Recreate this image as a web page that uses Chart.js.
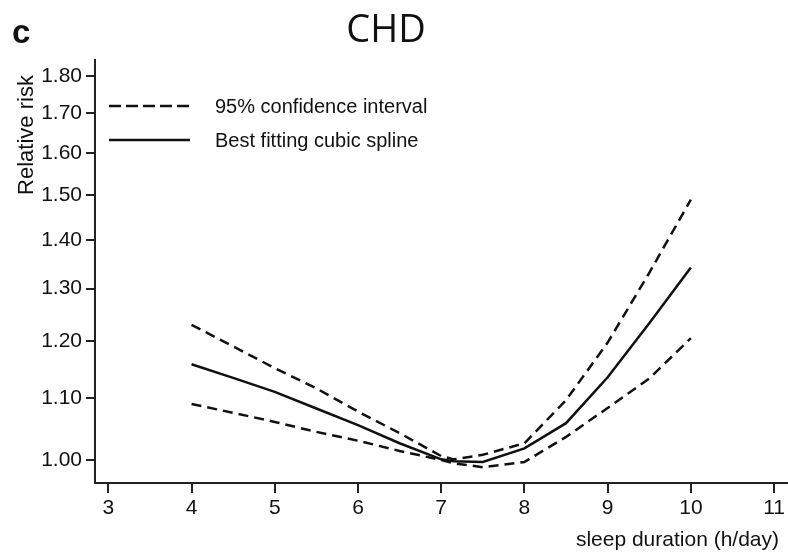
<!DOCTYPE html>
<html>
<head>
<meta charset="utf-8">
<script src="https://cdn.jsdelivr.net/npm/chart.js@4.4.0/dist/chart.umd.min.js"></script>
<style>
  html, body { margin: 0; padding: 0; background: #fff; }
  #wrap { width: 788px; height: 553px; }
</style>
</head>
<body>
<div id="wrap"><canvas id="chd" width="788" height="553"></canvas></div>
<script>
// sleep duration (h/day) and relative risk
const sleepHours = [4, 4.5, 5, 5.5, 6, 6.5, 7, 7.15, 7.5, 8, 8.5, 9, 9.5, 10];
const upperCI = [1.23, 1.19, 1.151, 1.116, 1.077, 1.042, 1.006, 1.001, 1.008, 1.026, 1.096, 1.197, 1.332, 1.49];
const bestFit = [1.158, 1.134, 1.11, 1.082, 1.055, 1.026, 1.001, 0.998, 0.997, 1.018, 1.058, 1.135, 1.233, 1.343];
const lowerCI = [1.0895, 1.075, 1.06, 1.044, 1.03, 1.014, 1.0, 0.995, 0.989, 0.997, 1.036, 1.083, 1.133, 1.205];

const yTickValues = [1.0, 1.1, 1.2, 1.3, 1.4, 1.5, 1.6, 1.7, 1.8];
const xTickValues = [3, 4, 5, 6, 7, 8, 9, 10, 11];

const ink = '#111';
const labelFont = 'Liberation Sans';

function points(ys) {
    return sleepHours.map((h, i) => ({ x: h, y: ys[i] }));
}

// titles, panel letter and the hand-placed legend
const decorations = {
    id: 'decorations',
    afterDraw(chart) {
        const ctx = chart.ctx;
        ctx.save();
        ctx.fillStyle = ink;
        ctx.textBaseline = 'alphabetic';

        ctx.font = 'bold 33px "Liberation Sans"';
        ctx.textAlign = 'left';
        ctx.fillText('c', 12, 43);

        ctx.font = '38px "Open Sans"';
        ctx.textAlign = 'center';
        ctx.fillText('CHD', 386, 42);

        ctx.font = '21px "Liberation Sans"';
        ctx.textAlign = 'right';
        ctx.fillText('sleep duration (h/day)', 779, 546);

        ctx.save();
        ctx.translate(33, 135);
        ctx.rotate(-Math.PI / 2);
        ctx.textAlign = 'center';
        ctx.font = '22px "Liberation Sans"';
        ctx.fillText('Relative risk', 0, 0);
        ctx.restore();

        // legend
        ctx.strokeStyle = ink;
        ctx.lineWidth = 2.5;
        ctx.setLineDash([12, 5]);
        ctx.beginPath();
        ctx.moveTo(109, 106);
        ctx.lineTo(190, 106);
        ctx.stroke();
        ctx.setLineDash([]);
        ctx.beginPath();
        ctx.moveTo(109, 140);
        ctx.lineTo(190, 140);
        ctx.stroke();

        ctx.font = '20px "Liberation Sans"';
        ctx.textAlign = 'left';
        ctx.textBaseline = 'middle';
        ctx.fillText('95% confidence interval', 215, 107);
        ctx.fillText('Best fitting cubic spline', 215, 141);
        ctx.restore();
    }
};

const lineStyle = {
    borderColor: ink,
    borderWidth: 2.5,
    pointRadius: 0,
    tension: 0,
    fill: false,
    showLine: true
};

const canvas = document.getElementById('chd');
new Chart(canvas.getContext('2d'), {
    type: 'scatter',
    data: {
        datasets: [
            Object.assign({ label: 'upper 95% CI', data: points(upperCI), borderDash: [10, 6] }, lineStyle),
            Object.assign({ label: 'Best fitting cubic spline', data: points(bestFit) }, lineStyle),
            Object.assign({ label: 'lower 95% CI', data: points(lowerCI), borderDash: [10, 6] }, lineStyle)
        ]
    },
    options: {
        responsive: false,
        animation: false,
        devicePixelRatio: 1,
        layout: { padding: { top: 60, right: 0, bottom: 0, left: 0 } },
        plugins: {
            legend: { display: false },
            tooltip: { enabled: false }
        },
        scales: {
            x: {
                type: 'linear',
                min: 2.84,
                max: 11.156,
                afterBuildTicks: s => { s.ticks = xTickValues.map(v => ({ value: v })); },
                afterFit: s => { s.height = 70; },
                ticks: {
                    color: ink,
                    font: { family: labelFont, size: 21 },
                    padding: 3,
                    maxRotation: 0,
                    autoSkip: false
                },
                grid: { drawOnChartArea: false, drawTicks: true, tickLength: 10, color: '#222', lineWidth: 2 },
                border: { display: true, color: '#222', width: 2 }
            },
            y: {
                type: 'logarithmic',
                min: 0.9654,
                max: 1.845,
                afterBuildTicks: s => { s.ticks = yTickValues.map(v => ({ value: v })); },
                afterFit: s => { s.width = 95; },
                ticks: {
                    color: ink,
                    font: { family: labelFont, size: 21 },
                    padding: 4,
                    autoSkip: false,
                    callback: v => Number(v).toFixed(2)
                },
                grid: { drawOnChartArea: false, drawTicks: true, tickLength: 9, color: '#222', lineWidth: 2 },
                border: { display: true, color: '#222', width: 2 }
            }
        }
    },
    plugins: [decorations]
});
</script>
</body>
</html>
